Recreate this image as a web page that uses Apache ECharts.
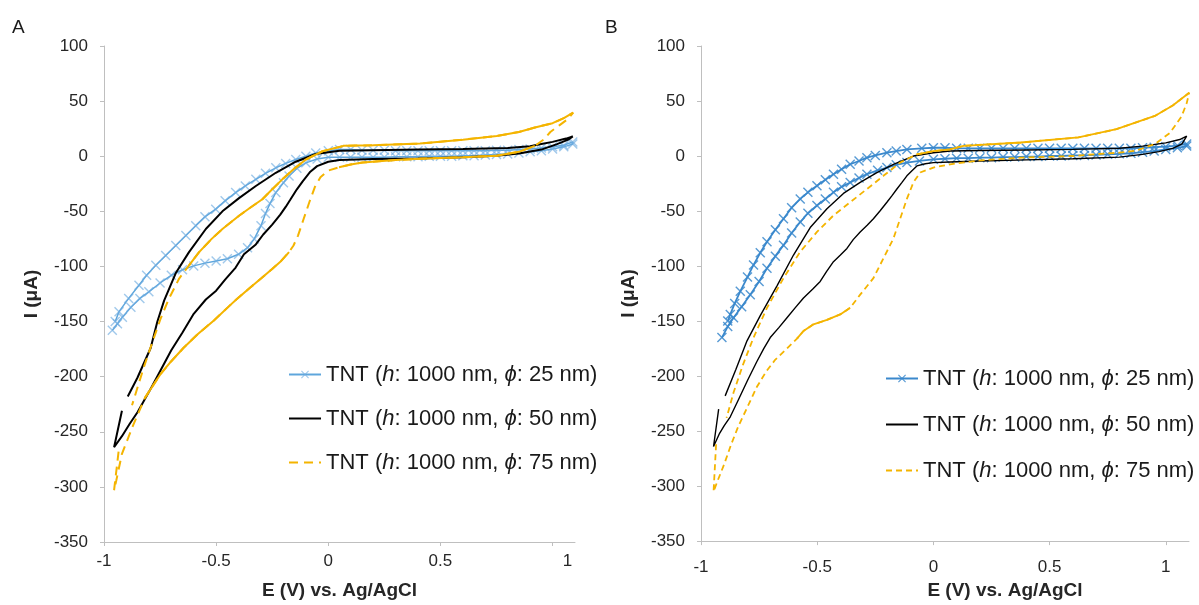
<!DOCTYPE html>
<html><head><meta charset="utf-8">
<script src="https://cdn.jsdelivr.net/npm/echarts@6/dist/echarts.min.js"></script>
<style>html,body{margin:0;padding:0;background:#fff}#c{width:1199px;height:605px}</style>
</head><body><div id="c"></div>
<script>
// ---------- DATA ----------
const seriesNames = ['TNT (h: 1000 nm, ϕ: 25 nm)', 'TNT (h: 1000 nm, ϕ: 50 nm)', 'TNT (h: 1000 nm, ϕ: 75 nm)'];
const panelLabels = ['A', 'B'];
const xTickValues = [-1, -0.5, 0, 0.5, 1];
const xTitle = 'E (V) vs. Ag/AgCl';
const yTitle = 'I (μA)';

// Panel A, phi 25 nm (E in V, I in uA)
const A_25 = [[-0.963,-158],[-0.94,-152],[-0.918,-146],[-0.88,-137],[-0.84,-129],[-0.8,-123],[-0.75,-115],[-0.7,-108],[-0.65,-103],[-0.6,-99.5],[-0.55,-97],[-0.5,-95],[-0.45,-93],[-0.4,-89],[-0.36,-83],[-0.33,-75],[-0.3,-63],[-0.28,-52],[-0.26,-43],[-0.234,-33],[-0.2,-24],[-0.175,-18],[-0.14,-11],[-0.1,-6],[-0.05,-2.5],[0,-1],[0.05,-1],[0.1,-1],[0.15,-1],[0.2,-1],[0.25,-1],[0.3,-0.5],[0.35,-0.5],[0.4,-0.5],[0.45,0],[0.5,0],[0.55,0],[0.6,0.5],[0.65,0.5],[0.7,1],[0.75,1.5],[0.8,2],[0.85,3],[0.9,4],[0.95,5],[1.0,6.5],[1.05,8.5],[1.09,11],
[1.09,13],[1.05,10],[1.0,8.5],[0.95,7.5],[0.9,6.5],[0.85,6],[0.8,5.5],[0.75,5.5],[0.7,5],[0.65,5],[0.6,5],[0.55,5],[0.5,5],[0.45,5],[0.4,5],[0.35,5],[0.3,5],[0.25,5.5],[0.2,5.5],[0.15,5.5],[0.1,6],[0.05,6],[0,5],[-0.056,3],[-0.1,0],[-0.145,-3],[-0.19,-6.5],[-0.234,-10.5],[-0.28,-15.5],[-0.323,-21],[-0.37,-27],[-0.413,-33],[-0.46,-40.5],[-0.502,-48],[-0.55,-55],[-0.591,-63],[-0.635,-72],[-0.68,-81],[-0.725,-90],[-0.769,-99],[-0.81,-108],[-0.844,-117],[-0.89,-129],[-0.933,-141],[-0.95,-150]];

// Panel A, phi 50 nm
const A_50 = [[-0.92,-231],[-0.955,-264],[-0.92,-254],[-0.886,-243],[-0.85,-232],[-0.8,-214],[-0.75,-195],[-0.7,-176],[-0.65,-160],[-0.6,-143],[-0.546,-130],[-0.5,-122],[-0.46,-112],[-0.413,-101],[-0.376,-89],[-0.323,-80],[-0.29,-71],[-0.25,-62],[-0.214,-53],[-0.19,-46],[-0.171,-40],[-0.14,-30],[-0.115,-23],[-0.08,-14],[-0.05,-9],[0,-5],[0.05,-3.5],[0.2,-2.5],[0.4,-2],[0.6,-1],[0.75,0.5],[0.85,2.5],[0.95,6],[1.02,11],[1.07,15],[1.09,18],
[1.06,16],[1.0,13],[0.95,11],[0.9,9],[0.8,7.5],[0.6,6.5],[0.4,6],[0.2,5.5],[0.05,5],[-0.056,2],[-0.145,-5],[-0.234,-15],[-0.323,-27],[-0.398,-38],[-0.472,-50],[-0.546,-66],[-0.621,-87],[-0.68,-106],[-0.732,-131],[-0.762,-150],[-0.792,-174],[-0.851,-201],[-0.894,-218]];

// Panel A, phi 75 nm (whole sweep, and the parts that print as solid)
const A_75 = [[-0.935,-268],[-0.955,-303],[-0.945,-294],[-0.92,-270],[-0.868,-243],[-0.817,-219],[-0.749,-198],[-0.7,-186],[-0.646,-174],[-0.58,-161],[-0.51,-149],[-0.442,-136],[-0.41,-130],[-0.353,-120],[-0.3,-111],[-0.249,-102],[-0.21,-95],[-0.175,-87],[-0.155,-81],[-0.135,-72],[-0.11,-57],[-0.085,-42],[-0.06,-28],[-0.035,-19],[0,-13],[0.048,-10],[0.1,-7.5],[0.153,-5.7],[0.3,-3.5],[0.409,-2.3],[0.6,-1],[0.751,0.5],[0.85,4],[0.921,9.4],[0.96,15],[0.99,22],[1.03,28],[1.07,34],[1.092,39.6],
[1.05,34.5],[1.0,30],[0.921,26],[0.85,22],[0.751,18.4],[0.6,15],[0.409,11.5],[0.2,10],[0.068,9.4],[-0.026,4.5],[-0.1,-3],[-0.15,-11],[-0.205,-21],[-0.25,-30],[-0.294,-39],[-0.35,-47],[-0.398,-54],[-0.472,-66],[-0.52,-75],[-0.576,-87],[-0.621,-99],[-0.665,-111],[-0.71,-129],[-0.747,-147],[-0.783,-168],[-0.82,-190],[-0.851,-210],[-0.875,-226]];
const A_75_solid1 = [[-0.817,-219],[-0.749,-198],[-0.7,-186],[-0.646,-174],[-0.58,-161],[-0.51,-149],[-0.442,-136],[-0.41,-130],[-0.353,-120],[-0.3,-111],[-0.249,-102],[-0.21,-95],[-0.175,-87]];
const A_75_solid2 = [[0.048,-10],[0.1,-7.5],[0.153,-5.7],[0.3,-3.5],[0.409,-2.3],[0.6,-1],[0.751,0.5],[0.85,4],[0.921,9.4]];
const A_75_solid3 = [[1.092,39.6],[1.05,34.5],[1.0,30],[0.921,26],[0.85,22],[0.751,18.4],[0.6,15],[0.409,11.5],[0.2,10],[0.068,9.4],[-0.026,4.5],[-0.1,-3],[-0.15,-11],[-0.205,-21],[-0.25,-30],[-0.294,-39],[-0.35,-47],[-0.398,-54],[-0.472,-66],[-0.52,-75],[-0.576,-87],[-0.621,-99]];

// Panel B, phi 25 nm
const B_25 = [[-0.91,-165],[-0.885,-155],[-0.86,-147],[-0.825,-137],[-0.788,-126],[-0.75,-114],[-0.716,-102],[-0.68,-91],[-0.645,-81],[-0.61,-70],[-0.573,-60],[-0.54,-52],[-0.501,-45],[-0.465,-39],[-0.43,-33],[-0.395,-28],[-0.358,-24],[-0.32,-20],[-0.286,-16.5],[-0.24,-13],[-0.2,-10.5],[-0.16,-8],[-0.114,-6],[-0.06,-4.5],[0,-3],[0.05,-2.5],[0.1,-2],[0.15,-2],[0.2,-1.5],[0.25,-1.5],[0.3,-1],[0.35,-1],[0.4,-0.5],[0.45,-0.5],[0.5,0],[0.55,0],[0.6,0.5],[0.65,0.5],[0.7,1],[0.75,1.5],[0.8,2],[0.85,2.5],[0.9,3.5],[0.95,4.5],[1.0,6],[1.05,7.5],[1.09,9],
[1.09,11],[1.05,9.5],[1.0,8.5],[0.95,8],[0.9,7.5],[0.85,7],[0.8,7],[0.75,7],[0.7,7],[0.65,7],[0.6,7],[0.55,7],[0.5,7],[0.45,7],[0.4,7],[0.35,7],[0.3,7],[0.25,7],[0.2,7],[0.15,7],[0.1,7],[0.05,7.5],[0,7.5],[-0.05,7],[-0.114,6],[-0.16,4.5],[-0.2,3],[-0.25,0.5],[-0.286,-1.5],[-0.32,-4.5],[-0.358,-7.5],[-0.395,-12],[-0.43,-16.5],[-0.465,-21.5],[-0.501,-27],[-0.54,-33],[-0.573,-39],[-0.61,-47],[-0.645,-57],[-0.68,-67],[-0.716,-78],[-0.745,-88],[-0.774,-99],[-0.8,-110],[-0.831,-123],[-0.855,-134],[-0.874,-144],[-0.885,-150]];

// Panel B, phi 50 nm
const B_50 = [[-0.924,-230],[-0.946,-264],[-0.92,-252],[-0.9,-245],[-0.874,-237],[-0.84,-222],[-0.8,-204],[-0.76,-187],[-0.73,-175],[-0.702,-165],[-0.665,-156],[-0.63,-147],[-0.595,-138],[-0.559,-129],[-0.52,-121],[-0.487,-114],[-0.46,-105],[-0.43,-96],[-0.4,-90],[-0.372,-84],[-0.345,-76],[-0.315,-69],[-0.285,-63],[-0.258,-57],[-0.23,-50],[-0.2,-42],[-0.178,-36],[-0.157,-30],[-0.135,-24],[-0.114,-18],[-0.09,-13],[-0.071,-9],[-0.035,-7],[0,-6],[0.072,-5.4],[0.2,-4.5],[0.4,-3.5],[0.6,-2.5],[0.8,-1],[0.9,1.5],[0.97,4],[1.03,7],[1.07,11],[1.09,18],
[1.06,15],[1.0,12],[0.9,9],[0.8,7],[0.6,6],[0.4,5.5],[0.2,5],[0.072,4.5],[0,3],[-0.086,0],[-0.172,-7.5],[-0.243,-15],[-0.315,-24],[-0.387,-34],[-0.458,-48],[-0.53,-65],[-0.602,-90],[-0.673,-118],[-0.745,-145],[-0.802,-168],[-0.85,-194],[-0.896,-218]];

// Panel B, phi 75 nm
const B_75 = [[-0.935,-262],[-0.946,-305],[-0.93,-296],[-0.9,-280],[-0.87,-262],[-0.84,-246],[-0.8,-228],[-0.76,-210],[-0.72,-196],[-0.68,-185],[-0.63,-175],[-0.587,-166],[-0.559,-159],[-0.516,-153],[-0.458,-149],[-0.401,-144],[-0.358,-138],[-0.315,-126],[-0.258,-111],[-0.215,-93],[-0.172,-75],[-0.143,-57],[-0.114,-39],[-0.086,-24],[-0.057,-15],[0,-10.5],[0.072,-7.5],[0.2,-4],[0.377,-1.5],[0.6,0],[0.706,1.8],[0.8,3],[0.871,4.8],[0.953,10.8],[1.018,21],[1.068,36],[1.09,48],[1.101,57.5],
[1.03,46],[0.953,36.4],[0.788,24.4],[0.624,16.9],[0.377,12.3],[0.13,9.3],[0.072,6],[0,4.5],[-0.071,1.5],[-0.143,-6],[-0.215,-18],[-0.286,-30],[-0.358,-42],[-0.43,-54],[-0.501,-69],[-0.573,-87],[-0.645,-111],[-0.716,-138],[-0.774,-165],[-0.82,-190],[-0.86,-215],[-0.89,-238]];
const B_75_solid1 = [[1.101,57.5],[1.03,46],[0.953,36.4],[0.788,24.4],[0.624,16.9],[0.377,12.3],[0.13,9.3],[0.072,6],[0,4.5],[-0.071,1.5]];
const B_75_solid2 = [[-0.358,-138],[-0.401,-144],[-0.458,-149],[-0.516,-153],[-0.559,-159],[-0.587,-166]];

// ---------- CHART ----------
const FONT = '"Liberation Sans", Arial, sans-serif';
const XMARK = 'path://M1,0L5,4L9,0L10,1L6,5L10,9L9,10L5,6L1,10L0,9L4,5L0,1Z';
const grids = [
  {left: 104, top: 46, width: 471, height: 500},
  {left: 701, top: 46, width: 488, height: 500}
];
const blue = [
  {line: '#5EA6DC', mark: 'rgba(110,172,225,0.65)', size: 10, w: 1.5},
  {line: '#3A88CC', mark: 'rgba(58,136,204,0.85)', size: 10, w: 1.8}
];
const suffix = ['', '#B'];

function legendFmt(n) {
  return n.replace('#B', '').replace('h:', '{i|h}:').replace('ϕ', '{i|ϕ}');
}

function panelSeries(p, d25, d50, d75, solids, cfg) {
  const out = [];
  out.push({
    type: 'line', name: seriesNames[0] + suffix[p], data: d25, xAxisIndex: p, yAxisIndex: p,
    symbol: XMARK, symbolSize: blue[p].size, showSymbol: true, showAllSymbol: true,
    itemStyle: {color: blue[p].mark}, lineStyle: {color: blue[p].line, width: blue[p].w},
    z: 2
  });
  out.push({
    type: 'line', name: seriesNames[1] + suffix[p], data: d50, xAxisIndex: p, yAxisIndex: p,
    symbol: 'none', itemStyle: {color: '#000'}, lineStyle: {color: '#000', width: cfg.bw}, z: 3
  });
  out.push({
    type: 'line', name: seriesNames[2] + suffix[p], data: d75, xAxisIndex: p, yAxisIndex: p,
    symbol: 'none', itemStyle: {color: '#F4B400'},
    lineStyle: {color: '#F4B400', width: cfg.yw, type: cfg.dash}, z: 4
  });
  solids.forEach(s => out.push({
    type: 'line', name: seriesNames[2] + suffix[p], data: s, xAxisIndex: p, yAxisIndex: p,
    symbol: 'none', itemStyle: {color: '#F4B400'},
    lineStyle: {color: '#F4B400', width: cfg.yw, type: 'solid'}, z: 4
  }));
  return out;
}

const series = [].concat(
  panelSeries(0, A_25, A_50, A_75, [A_75_solid1, A_75_solid2, A_75_solid3], {bw: 2, yw: 2, dash: [9, 6]}),
  panelSeries(1, B_25, B_50, B_75, [B_75_solid1, B_75_solid2], {bw: 1.4, yw: 1.8, dash: [6, 4]})
);
series.forEach(s => { s.animation = false; s.silent = true; });

function xAxis(p) {
  return {
    type: 'value', gridIndex: p, min: -1, max: 1.1, interval: 0.5,
    axisLine: {onZero: false, lineStyle: {color: '#BFBFBF', width: 1}},
    axisTick: {show: true, length: 4, lineStyle: {color: '#BFBFBF'}},
    splitLine: {show: false},
    axisLabel: {
      fontSize: 17, color: '#262626', fontFamily: FONT, margin: p === 0 ? 11 : 18, showMaxLabel: false,
      formatter: v => {
        const ok = xTickValues.some(t => Math.abs(t - v) < 1e-9);
        if (!ok) return '';
        if (p === 0 && Math.abs(v - 1) < 1e-9) return '{s|1}';
        return String(v);
      },
      rich: {s: {fontSize: 17, color: '#262626', fontFamily: FONT, padding: [0, 0, 0, 30]}}
    },
    name: xTitle, nameLocation: 'middle', nameGap: p === 0 ? 39 : 35,
    nameTextStyle: {fontSize: 19, fontWeight: 'bold', color: '#262626', fontFamily: FONT,
      padding: p === 0 ? [0, 0, 0, 0] : [0, 0, 0, 120]}
  };
}
function yAxis(p) {
  return {
    type: 'value', gridIndex: p, min: -350, max: 100, interval: 50,
    axisLine: {show: true, onZero: false, lineStyle: {color: '#BFBFBF', width: 1}},
    axisTick: {show: true, length: 4, lineStyle: {color: '#BFBFBF'}},
    splitLine: {show: false},
    axisLabel: {fontSize: 17, color: '#262626', fontFamily: FONT, margin: 16},
    name: yTitle, nameLocation: 'middle', nameGap: 63,
    nameTextStyle: {fontSize: 19, fontWeight: 'bold', color: '#262626', fontFamily: FONT}
  };
}
function legend(p, left, top, gap) {
  return {
    data: seriesNames.map((n, k) => k === 0 ? {name: n + suffix[p]} : {name: n + suffix[p], itemStyle: {opacity: 0}}),
    left: left, top: top, orient: 'vertical',
    itemWidth: 32, itemHeight: 10, itemGap: gap, selectedMode: false,
    formatter: legendFmt,
    textStyle: {fontSize: 22, color: '#1a1a1a', fontFamily: FONT, lineHeight: 25,
      rich: {i: {fontSize: 22, fontStyle: 'italic', color: '#1a1a1a', fontFamily: FONT, lineHeight: 25}}}
  };
}

const chart = echarts.init(document.getElementById('c'), null, {renderer: 'canvas'});
chart.setOption({
  backgroundColor: '#fff',
  animation: false,
  textStyle: {fontFamily: FONT},
  title: [
    {text: panelLabels[0], left: 7, top: 13, textStyle: {fontSize: 19, fontWeight: 'normal', color: '#1a1a1a', fontFamily: FONT}},
    {text: panelLabels[1], left: 600, top: 13, textStyle: {fontSize: 19, fontWeight: 'normal', color: '#1a1a1a', fontFamily: FONT}}
  ],
  grid: grids,
  xAxis: [xAxis(0), xAxis(1)],
  yAxis: [yAxis(0), yAxis(1)],
  legend: [legend(0, 283, 357, 19), legend(1, 880, 361, 21)],
  series: series
});
</script></body></html>
